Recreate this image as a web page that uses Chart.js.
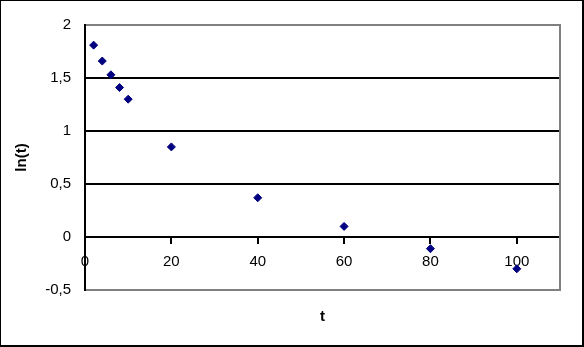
<!DOCTYPE html>
<html>
<head>
<meta charset="utf-8">
<script src="https://cdn.jsdelivr.net/npm/chart.js@4/dist/chart.umd.min.js"></script>
<style>
  html, body { margin: 0; padding: 0; background: #fff; }
  #frame {
    width: 584px; height: 347px; box-sizing: border-box;
    border-left: 1px solid #000; border-top: 1px solid #000;
    border-right: 2px solid #000; border-bottom: 2px solid #000;
  }
  canvas { display: block; }
</style>
</head>
<body>
<div id="frame"><canvas id="chart" width="581" height="344"></canvas></div>
<script>
// values
const tValues = [2, 4, 6, 8, 10, 20, 40, 60, 80, 100];
const lnValues = [1.81, 1.66, 1.53, 1.41, 1.30, 0.85, 0.37, 0.10, -0.11, -0.30];
const xTicks = [0, 20, 40, 60, 80, 100];
const yTicks = [-0.5, 0, 0.5, 1, 1.5, 2];

Chart.defaults.font.family = "'Liberation Sans', Arial, sans-serif";
Chart.defaults.color = '#000';

// gray right edge of the plot area
const plotFrame = {
    id: 'plotFrame',
    beforeDatasetsDraw(chart) {
        const { ctx, chartArea } = chart;
        ctx.save();
        ctx.strokeStyle = '#808080';
        ctx.lineWidth = 2;
        ctx.beginPath();
        ctx.moveTo(chartArea.right, chartArea.top - 1);
        ctx.lineTo(chartArea.right, chartArea.bottom + 1);
        ctx.stroke();
        ctx.restore();
    }
};

const points = tValues.map((t, i) => ({ x: t, y: lnValues[i] }));

new Chart(document.getElementById('chart').getContext('2d'), {
    type: 'scatter',
    data: {
        datasets: [{
            data: points,
            pointStyle: 'rectRot',
            pointRadius: 4,
            pointHoverRadius: 4,
            backgroundColor: '#000080',
            borderColor: '#000080',
            borderWidth: 1
        }]
    },
    options: {
        responsive: false,
        animation: false,
        events: [],
        layout: { padding: { left: 8, right: 22, top: 24, bottom: 19 } },
        plugins: {
            legend: { display: false },
            tooltip: { enabled: false },
            title: {
                display: true,
                text: 't',
                position: 'bottom',
                fullSize: false,
                font: { size: 15, weight: 'bold' },
                padding: { top: 18, bottom: 0 }
            }
        },
        scales: {
            x: {
                type: 'linear',
                position: { y: 0 },
                min: 0,
                max: 110,
                afterBuildTicks: (s) => { s.ticks = xTicks.map(v => ({ value: v })); },
                ticks: { font: { size: 15 }, padding: 10, maxRotation: 0 },
                grid: { drawOnChartArea: false, color: '#000', lineWidth: 2, tickLength: 6 },
                border: { color: '#000', width: 2 }
            },
            y: {
                type: 'linear',
                min: -0.5,
                max: 2,
                afterBuildTicks: (s) => { s.ticks = yTicks.map(v => ({ value: v })); },
                afterFit: (s) => { s.width = 76; },
                ticks: {
                    font: { size: 15 },
                    padding: 14,
                    callback: (v) => String(v).replace('.', ',')
                },
                grid: {
                    drawTicks: false,
                    lineWidth: 2,
                    color: (c) => (c.tick && (c.tick.value === 2 || c.tick.value === -0.5)) ? '#808080' : '#000'
                },
                border: { color: '#000', width: 2 },
                title: {
                    display: true,
                    text: 'ln(t)',
                    font: { size: 15, weight: 'bold' }
                }
            }
        }
    },
    plugins: [plotFrame]
});
</script>
</body>
</html>
